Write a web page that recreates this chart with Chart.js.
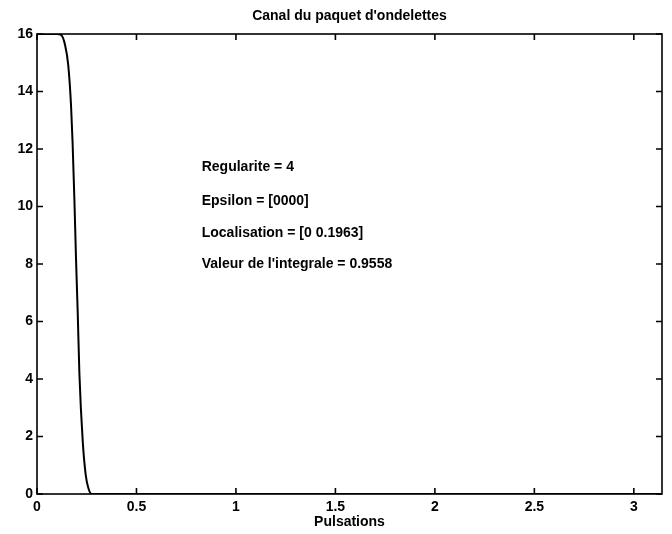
<!DOCTYPE html>
<html>
<head>
<meta charset="utf-8">
<script src="https://cdn.jsdelivr.net/npm/chart.js@4/dist/chart.umd.min.js"></script>
<style>
html,body{margin:0;padding:0;background:#fff}
#wrap{width:672px;height:534px}
</style>
</head>
<body>
<div id="wrap"><canvas id="c"></canvas></div>
<script>
'use strict'

// curve
const pulsations = [0, 0.05, 0.10, 0.121, 0.141, 0.157, 0.171, 0.179, 0.188, 0.196, 0.205, 0.213, 0.230, 0.245, 0.258, 0.275, 0.5, 1, 1.5, 2, 2.5, 3, Math.PI]
const gain       = [16, 16, 16, 15.97, 15.62, 14.92, 13.53, 12.2, 10.23, 8.21, 6.23, 4.21, 1.82, 0.66, 0.21, 0, 0, 0, 0, 0, 0, 0, 0]

const xTicks = [0, 0.5, 1, 1.5, 2, 2.5, 3]
const yTicks = [0, 2, 4, 6, 8, 10, 12, 14, 16]

const titleText = "Canal du paquet d'ondelettes"

// text block written on the plot (data coords)
const notes = ['Regularite = 4', 'Epsilon = [0000]', 'Localisation = [0 0.1963]', "Valeur de l'integrale = 0.9558"]
const notesX = [0.828, 0.828, 0.828, 0.828]
const notesY = [11.23, 10.05, 8.94, 7.86]

const FONT = 'Liberation Sans, Arial, Helvetica, sans-serif'

let points = []
for (var i = 0; i < pulsations.length; i++) {
    points.push({x: pulsations[i], y: gain[i]})
}

// matlab style box with inward ticks, title over the axes and the text block
const boxPlugin = {
    id: 'boxPlugin',
    afterDatasetsDraw(chart) {
        const ctx = chart.ctx
        const a = chart.chartArea
        const xs = chart.scales.x
        const ys = chart.scales.y
        const len = 6
        ctx.save()
        ctx.strokeStyle = '#000'
        ctx.lineWidth = 1.6
        ctx.strokeRect(a.left, a.top, a.right - a.left, a.bottom - a.top)
        ctx.beginPath()
        xTicks.forEach(v => {
            let px = xs.getPixelForValue(v)
            ctx.moveTo(px, a.bottom); ctx.lineTo(px, a.bottom - len)
            ctx.moveTo(px, a.top); ctx.lineTo(px, a.top + len)
        })
        yTicks.forEach(v => {
            let py = ys.getPixelForValue(v)
            ctx.moveTo(a.left, py); ctx.lineTo(a.left + len, py)
            ctx.moveTo(a.right, py); ctx.lineTo(a.right - len, py)
        })
        ctx.stroke()

        ctx.fillStyle = '#000'
        ctx.font = 'bold 14px ' + FONT
        ctx.textAlign = 'center'
        ctx.textBaseline = 'alphabetic'
        ctx.fillText(titleText, (a.left + a.right) / 2, a.top - 14.5)

        ctx.textAlign = 'left'
        for (var k = 0; k < notes.length; k++) {
            ctx.fillText(notes[k], xs.getPixelForValue(notesX[k]), ys.getPixelForValue(notesY[k]))
        }
        ctx.restore()
    }
}

new Chart(document.getElementById('c'), {
    type: 'line',
    data: {
        datasets: [{
            data: points,
            borderColor: '#000',
            borderWidth: 2,
            pointRadius: 0,
            cubicInterpolationMode: 'monotone',
            fill: false
        }]
    },
    options: {
        responsive: true,
        maintainAspectRatio: false,
        animation: false,
        layout: {padding: {left: 0, right: 10, top: 34, bottom: 0}},
        plugins: {
            legend: {display: false},
            tooltip: {enabled: false},
            title: {display: false}
        },
        scales: {
            x: {
                type: 'linear',
                min: 0,
                max: Math.PI,
                afterBuildTicks: s => { s.ticks = xTicks.map(v => ({value: v})) },
                afterFit: s => { s.height = 40 },
                grid: {display: false, drawTicks: false},
                border: {display: false},
                ticks: {
                    color: '#000',
                    padding: 6.5,
                    maxRotation: 0,
                    font: {family: FONT, size: 14, weight: 'bold', lineHeight: 1},
                    callback: v => String(v)
                },
                title: {
                    display: true,
                    text: 'Pulsations',
                    color: '#000',
                    font: {family: FONT, size: 14, weight: 'bold', lineHeight: 1},
                    padding: {top: 0, bottom: 4.5}
                }
            },
            y: {
                min: 0,
                max: 16,
                afterBuildTicks: s => { s.ticks = yTicks.map(v => ({value: v})) },
                afterFit: s => { s.width = 37 },
                grid: {display: false, drawTicks: false},
                border: {display: false},
                ticks: {
                    color: '#000',
                    padding: 4,
                    font: {family: FONT, size: 14, weight: 'bold', lineHeight: 1},
                    callback: v => String(v)
                }
            }
        }
    },
    plugins: [boxPlugin]
})
</script>
</body>
</html>
